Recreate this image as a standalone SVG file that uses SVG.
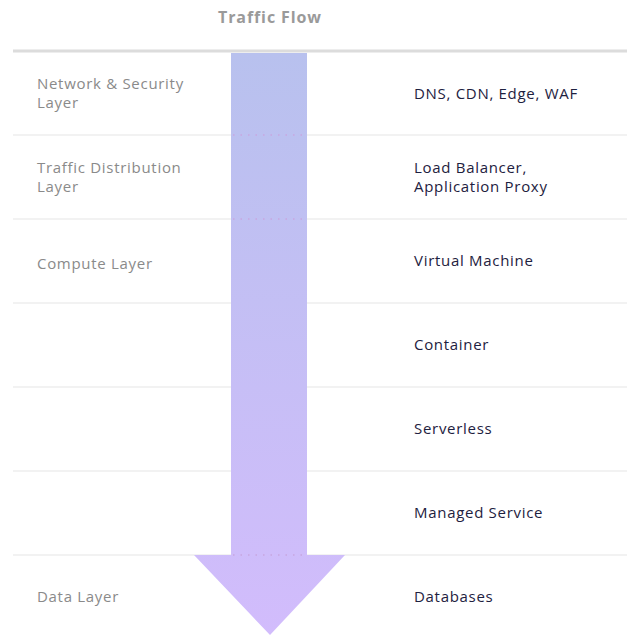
<svg xmlns="http://www.w3.org/2000/svg" width="627" height="636" viewBox="0 0 627 636">
<defs>
<linearGradient id="g" gradientUnits="userSpaceOnUse" x1="0" y1="53" x2="0" y2="636">
<stop offset="0" stop-color="#b8c1ee"/>
<stop offset="1" stop-color="#d2bcfc"/>
</linearGradient>
<style>
.t{font-family:"Open Sans","Liberation Sans",sans-serif;font-size:15px;letter-spacing:0.7px;}
.l{fill:#8a8a8a;}
.r{fill:#1e2140;font-weight:500;}
.h{font-family:"Open Sans","Liberation Sans",sans-serif;font-size:16px;font-weight:bold;fill:#9a9a9a;letter-spacing:0.9px;}
.sep{stroke:#eeeeee;stroke-width:1.5;}
.dot{stroke:#c7a6e0;stroke-width:1.5;stroke-dasharray:1.5 6;}
</style>
</defs>
<rect width="627" height="636" fill="#ffffff"/>
<text class="h" x="270" y="23" text-anchor="middle">Traffic Flow</text>
<g id="separators">
<line x1="13" y1="51" x2="627" y2="51" stroke="#dcdcdc" stroke-width="3"/>
<line class="sep" x1="13" y1="135" x2="627" y2="135"/>
<line class="sep" x1="13" y1="219" x2="627" y2="219"/>
<line class="sep" x1="13" y1="303" x2="627" y2="303"/>
<line class="sep" x1="13" y1="387" x2="627" y2="387"/>
<line class="sep" x1="13" y1="471" x2="627" y2="471"/>
<line class="sep" x1="13" y1="555" x2="627" y2="555"/>
</g>
<g id="arrow">
<path d="M231 53 H307 V555 H345 L270 635 L194 555 H231 Z" fill="url(#g)"/>
<line class="dot" x1="233" y1="135" x2="307" y2="135"/>
<line class="dot" x1="233" y1="219" x2="307" y2="219"/>
<line class="dot" x1="233" y1="555" x2="307" y2="555"/>
</g>
<g id="layer-network">
<text class="t l" x="37" y="89">Network &amp; Security</text>
<text class="t l" x="37" y="108">Layer</text>
<text class="t r" x="414" y="99">DNS, CDN, Edge, WAF</text>
</g>
<g id="layer-traffic">
<text class="t l" x="37" y="173">Traffic Distribution</text>
<text class="t l" x="37" y="192">Layer</text>
<text class="t r" x="414" y="173">Load Balancer,</text>
<text class="t r" x="414" y="192">Application Proxy</text>
</g>
<g id="layer-compute">
<text class="t l" x="37" y="269">Compute Layer</text>
<text class="t r" x="414" y="266">Virtual Machine</text>
<text class="t r" x="414" y="350">Container</text>
<text class="t r" x="414" y="434">Serverless</text>
<text class="t r" x="414" y="518">Managed Service</text>
</g>
<g id="layer-data">
<text class="t l" x="37" y="602">Data Layer</text>
<text class="t r" x="414" y="602">Databases</text>
</g>
</svg>
